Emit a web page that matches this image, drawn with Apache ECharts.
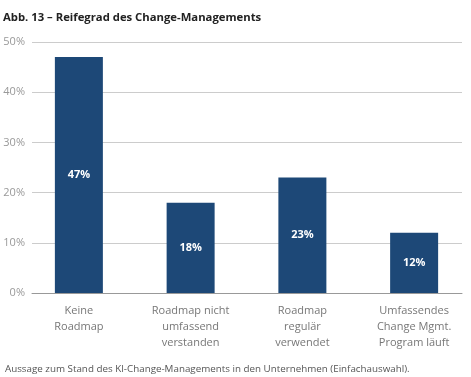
<!DOCTYPE html>
<html>
<head>
<meta charset="utf-8">
<script src="https://cdn.jsdelivr.net/npm/echarts@6/dist/echarts.min.js"></script>
<style>
  html, body { margin: 0; padding: 0; background: #fff; }
  #chart { width: 471px; height: 377px; }
</style>
</head>
<body>
<div id="chart"></div>
<script>
const categories = [
  'Keine\nRoadmap',
  'Roadmap nicht\numfassend\nverstanden',
  'Roadmap\nregulär\nverwendet',
  'Umfassendes\nChange Mgmt.\nProgram läuft',
]
const values = [47, 18, 23, 12]
const yTicks = [0, 10, 20, 30, 40, 50]

const chart = echarts.init(document.getElementById('chart'))

const font = '"Open Sans", "Noto Sans", sans-serif'

const option = {
  animation: false,
  textStyle: { fontFamily: font },
  title: [
    {
      text: 'Abb. 13 – Reifegrad des Change-Managements',
      left: -2,
      top: 7,
      textStyle: { fontSize: 11.3, fontWeight: 'bold', color: '#222', fontFamily: font },
    },
    {
      text: 'Aussage zum Stand des KI-Change-Managements in den Unternehmen (Einfachauswahl).',
      left: 0,
      top: 359,
      textStyle: { fontSize: 9.8, fontWeight: 'normal', color: '#555', fontFamily: font },
    },
  ],
  grid: [
    // gridlines + y labels
    { left: 32, right: 9, top: 42, bottom: 84 },
    // bars + category labels
    { left: 23, right: 1, top: 42, bottom: 84 },
  ],
  xAxis: [
    {
      gridIndex: 0,
      type: 'category',
      data: categories,
      axisLine: { show: true, lineStyle: { color: '#999', width: 1 } },
      axisTick: { show: false },
      axisLabel: { show: false },
    },
    {
      gridIndex: 1,
      type: 'category',
      data: categories,
      axisLine: { show: false },
      axisTick: { show: false },
      axisLabel: {
        margin: 10,
        fontSize: 11,
        lineHeight: 16,
        color: '#777',
        fontFamily: font,
        interval: 0,
      },
    },
  ],
  yAxis: [
    {
      gridIndex: 0,
      type: 'value',
      min: yTicks[0],
      max: yTicks[yTicks.length - 1],
      interval: 10,
      axisLine: { show: false },
      axisTick: { show: false },
      axisLabel: { margin: 7, fontSize: 11, color: '#999', formatter: '{value}%', fontFamily: font },
      splitLine: { lineStyle: { color: '#ccc', width: 1 } },
    },
    {
      gridIndex: 1,
      type: 'value',
      min: yTicks[0],
      max: yTicks[yTicks.length - 1],
      interval: 10,
      show: false,
      splitLine: { show: false },
    },
  ],
  series: [
    {
      type: 'bar',
      xAxisIndex: 1,
      yAxisIndex: 1,
      data: values,
      barWidth: 48,
      itemStyle: { color: '#1d4877' },
      label: {
        show: true,
        position: 'inside',
        formatter: '{c}%',
        color: '#fff',
        fontSize: 11,
        fontWeight: 'bold',
        fontFamily: font,
      },
    },
  ],
}

chart.setOption(option)
</script>
</body>
</html>
